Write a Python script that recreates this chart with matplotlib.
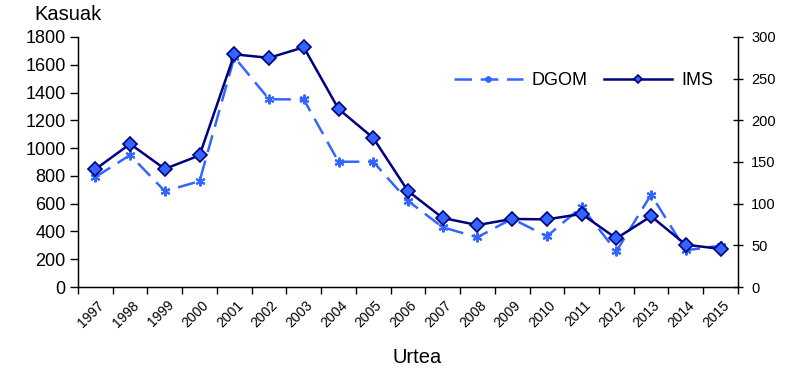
import matplotlib
matplotlib.use("Agg")
import matplotlib.pyplot as plt
import numpy as np

plt.rcParams['font.family'] = ['Liberation Sans', 'DejaVu Sans']

# Data (Kasuak, left axis units)
years = ['1997', '1998', '1999', '2000', '2001', '2002', '2003', '2004', '2005', '2006',
         '2007', '2008', '2009', '2010', '2011', '2012', '2013', '2014', '2015']
dgom = [792, 950, 690, 762, 1655, 1352, 1350, 902, 902, 620,
        430, 358, 492, 365, 576, 257, 665, 264, 298]
ims = [848, 1030, 850, 948, 1675, 1650, 1726, 1282, 1073, 691,
       497, 446, 490, 487, 526, 350, 509, 305, 274]

fig = plt.figure(figsize=(7.85, 3.71), dpi=100)
ax = fig.add_axes([0.0994, 0.2264, 0.8406, 0.6739])

x = np.arange(len(years))
ax.plot(x, dgom, color='#3366FF', linestyle=(0, (7, 3.5)), linewidth=1.8,
        marker=(6, 2, 0), markersize=7, markeredgewidth=1.5, markeredgecolor='#3366FF',
        label='DGOM')
ax.plot(x, ims, color='#000080', linestyle='-', linewidth=1.8,
        marker='D', markersize=7, markerfacecolor='#3366FF', markeredgecolor='#000080',
        markeredgewidth=1.2, label='IMS')

ax.set_xlim(-0.5, len(years) - 0.5)
ax.set_ylim(0, 1800)
ax.set_yticks(np.arange(0, 1801, 200))
ax.tick_params(axis='y', labelsize=13, direction='out', length=6, width=1, pad=3)

# category boundaries as ticks, labels at category centres
ax.set_xticks(np.arange(-0.5, len(years), 1))
ax.set_xticklabels([])
ax.tick_params(axis='x', direction='out', length=5, width=1)
for xi, yr in zip(x, years):
    ax.text(xi + 0.05, -80, yr, rotation=45, ha='right', va='top',
            rotation_mode='anchor', fontsize=10)

ax.spines['top'].set_visible(False)
for s in ['left', 'bottom', 'right']:
    ax.spines[s].set_linewidth(1)

ax2 = ax.twinx()
ax2.set_ylim(0, 300)
ax2.set_yticks(np.arange(0, 301, 50))
ax2.tick_params(axis='y', labelsize=10.5, direction='inout', length=7, width=1, pad=6)
ax2.spines['top'].set_visible(False)

ax.legend(loc='center right', bbox_to_anchor=(0.974, 0.825), ncol=2, frameon=False,
          fontsize=13, handlelength=3.8, columnspacing=0.9, handletextpad=0.5,
          borderaxespad=0, markerscale=0.65)

fig.text(0.086, 0.962, 'Kasuak', ha='center', va='center', fontsize=14.5)
fig.text(0.531, 0.036, 'Urtea', ha='center', va='center', fontsize=14.5)

fig.savefig('out.png', dpi=100)
